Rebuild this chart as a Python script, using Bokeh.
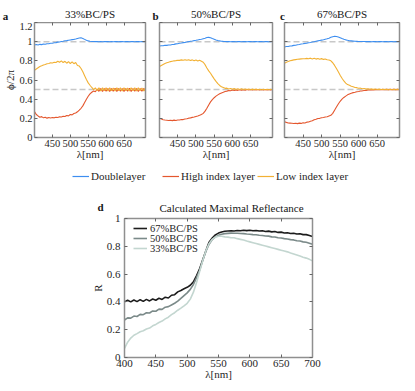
from bokeh.plotting import figure
from bokeh.layouts import column, row
from bokeh.models import (Range1d, LinearAxis, FixedTicker, NumeralTickFormatter,
                          Span, Label, Legend, LegendItem)
from bokeh.embed import file_html
from bokeh.resources import INLINE

# ---------------- data ----------------
wl_top = [400, 405, 410, 415, 420, 425, 430, 435, 440, 445,
          450, 455, 460, 465, 470, 475, 480, 485, 490, 495,
          500, 505, 510, 515, 520, 525, 530, 535, 540, 545,
          550, 555, 560, 565, 570, 575, 580, 585, 590, 595,
          600, 605, 610, 615, 620, 625, 630, 635, 640, 645,
          650, 655, 660, 665, 670, 675, 680, 685, 690, 695,
          700, 705, 710]

a_double = [0.965, 0.970, 0.966, 0.972, 0.969, 0.975, 0.973, 0.979, 0.978, 0.984,
            0.983, 0.989, 0.990, 0.995, 0.997, 1.002, 1.004, 1.009, 1.011, 1.015,
            1.018, 1.021, 1.024, 1.028, 1.033, 1.038, 1.040, 1.034, 1.024, 1.014,
            1.008, 1.004, 1.002, 1.001, 1.000, 1.002, 0.999, 1.001, 0.999, 1.001,
            1.000, 1.001, 0.999, 1.001, 0.999, 1.000, 1.001, 0.999, 1.000, 1.001,
            0.999, 1.000, 1.001, 0.999, 1.000, 1.001, 0.999, 1.000, 1.001, 0.999,
            1.000, 1.001, 1.000]
a_high = [0.270, 0.240, 0.225, 0.212, 0.218, 0.205, 0.212, 0.202, 0.208, 0.203,
          0.208, 0.205, 0.212, 0.209, 0.216, 0.214, 0.222, 0.219, 0.230, 0.226,
          0.240, 0.236, 0.250, 0.255, 0.268, 0.285, 0.305, 0.330, 0.365, 0.400,
          0.430, 0.455, 0.472, 0.485, 0.478, 0.505, 0.482, 0.510, 0.480, 0.512,
          0.482, 0.512, 0.480, 0.510, 0.482, 0.513, 0.480, 0.511, 0.483, 0.512,
          0.480, 0.510, 0.482, 0.513, 0.481, 0.511, 0.483, 0.512, 0.480, 0.510,
          0.482, 0.511, 0.483]
a_low = [0.700, 0.715, 0.728, 0.740, 0.748, 0.757, 0.762, 0.770, 0.772, 0.779,
         0.778, 0.786, 0.782, 0.795, 0.785, 0.800, 0.782, 0.795, 0.775, 0.792,
         0.772, 0.790, 0.770, 0.782, 0.752, 0.745, 0.720, 0.685, 0.645, 0.605,
         0.570, 0.545, 0.522, 0.500, 0.518, 0.488, 0.520, 0.485, 0.518, 0.487,
         0.520, 0.486, 0.519, 0.488, 0.517, 0.485, 0.520, 0.487, 0.518, 0.486,
         0.520, 0.488, 0.517, 0.486, 0.519, 0.487, 0.518, 0.485, 0.520, 0.488,
         0.517, 0.486, 0.518]

b_double = [0.955, 0.958, 0.957, 0.962, 0.961, 0.966, 0.966, 0.971, 0.972, 0.977,
            0.979, 0.983, 0.986, 0.990, 0.993, 0.997, 1.000, 1.004, 1.007, 1.011,
            1.014, 1.018, 1.022, 1.026, 1.031, 1.036, 1.043, 1.045, 1.040, 1.032,
            1.025, 1.018, 1.012, 1.008, 1.005, 1.003, 1.002, 1.000, 1.001, 0.999,
            1.000, 1.001, 0.999, 1.000, 1.001, 0.999, 1.000, 1.001, 0.999, 1.000,
            1.001, 0.999, 1.000, 1.001, 0.999, 1.000, 1.001, 0.999, 1.000, 1.001,
            0.999, 1.000, 1.001]
b_high = [0.200, 0.192, 0.186, 0.182, 0.180, 0.178, 0.180, 0.176, 0.181, 0.178,
          0.183, 0.182, 0.188, 0.187, 0.193, 0.195, 0.202, 0.205, 0.210, 0.214,
          0.220, 0.225, 0.232, 0.240, 0.252, 0.275, 0.305, 0.340, 0.372, 0.395,
          0.415, 0.432, 0.445, 0.456, 0.465, 0.472, 0.480, 0.484, 0.490, 0.488,
          0.495, 0.490, 0.497, 0.492, 0.498, 0.493, 0.499, 0.494, 0.500, 0.495,
          0.500, 0.495, 0.501, 0.496, 0.500, 0.495, 0.501, 0.496, 0.500, 0.495,
          0.501, 0.496, 0.500]
b_low = [0.740, 0.752, 0.762, 0.772, 0.780, 0.786, 0.792, 0.796, 0.800, 0.802,
         0.806, 0.805, 0.810, 0.806, 0.812, 0.805, 0.812, 0.803, 0.810, 0.800,
         0.808, 0.798, 0.805, 0.795, 0.785, 0.760, 0.725, 0.695, 0.670, 0.640,
         0.612, 0.585, 0.562, 0.543, 0.530, 0.522, 0.513, 0.515, 0.506, 0.512,
         0.503, 0.510, 0.502, 0.509, 0.501, 0.508, 0.500, 0.507, 0.500, 0.506,
         0.499, 0.505, 0.499, 0.505, 0.498, 0.504, 0.498, 0.504, 0.498, 0.503,
         0.498, 0.503, 0.498]

c_double = [0.945, 0.949, 0.950, 0.955, 0.956, 0.961, 0.963, 0.968, 0.970, 0.975,
            0.978, 0.982, 0.985, 0.989, 0.992, 0.996, 1.000, 1.004, 1.008, 1.012,
            1.016, 1.020, 1.025, 1.030, 1.036, 1.045, 1.052, 1.056, 1.054, 1.048,
            1.040, 1.032, 1.025, 1.019, 1.014, 1.010, 1.008, 1.006, 1.004, 1.003,
            1.002, 1.002, 1.001, 1.001, 1.000, 1.001, 1.000, 0.999, 1.000, 1.001,
            0.999, 1.000, 1.001, 0.999, 1.000, 1.001, 0.999, 1.000, 1.001, 0.999,
            1.000, 1.001, 1.000]
c_high = [0.165, 0.158, 0.152, 0.150, 0.148, 0.146, 0.149, 0.145, 0.150, 0.147,
          0.153, 0.152, 0.160, 0.162, 0.170, 0.175, 0.185, 0.190, 0.198, 0.200,
          0.206, 0.208, 0.214, 0.216, 0.224, 0.232, 0.252, 0.285, 0.318, 0.350,
          0.378, 0.400, 0.418, 0.432, 0.445, 0.455, 0.462, 0.468, 0.472, 0.478,
          0.480, 0.485, 0.487, 0.491, 0.492, 0.495, 0.495, 0.498, 0.497, 0.500,
          0.498, 0.501, 0.499, 0.502, 0.499, 0.502, 0.500, 0.502, 0.500, 0.502,
          0.500, 0.502, 0.500]
c_low = [0.775, 0.785, 0.792, 0.800, 0.805, 0.810, 0.813, 0.816, 0.818, 0.820,
         0.822, 0.822, 0.826, 0.822, 0.828, 0.820, 0.826, 0.818, 0.825, 0.816,
         0.823, 0.815, 0.820, 0.812, 0.808, 0.800, 0.780, 0.752, 0.720, 0.685,
         0.650, 0.618, 0.590, 0.568, 0.552, 0.545, 0.535, 0.530, 0.522, 0.520,
         0.514, 0.515, 0.508, 0.511, 0.505, 0.509, 0.503, 0.507, 0.502, 0.506,
         0.501, 0.505, 0.500, 0.504, 0.500, 0.504, 0.499, 0.503, 0.499, 0.503,
         0.499, 0.503, 0.499]

wl_d = [400, 405, 410, 415, 420, 425, 430, 435, 440, 445,
        450, 455, 460, 465, 470, 475, 480, 485, 490, 495,
        500, 505, 510, 515, 520, 525, 530, 535, 540, 545,
        550, 555, 560, 565, 570, 575, 580, 585, 590, 595,
        600, 605, 610, 615, 620, 625, 630, 635, 640, 645,
        650, 655, 660, 665, 670, 675, 680, 685, 690, 695,
        700]
refl_67 = [0.400, 0.412, 0.400, 0.414, 0.402, 0.416, 0.404, 0.418, 0.407, 0.421,
           0.412, 0.426, 0.418, 0.434, 0.428, 0.448, 0.452, 0.472, 0.482, 0.495,
           0.505, 0.520, 0.545, 0.590, 0.640, 0.705, 0.770, 0.830, 0.860, 0.882,
           0.895, 0.903, 0.908, 0.910, 0.912, 0.910, 0.914, 0.912, 0.916, 0.913,
           0.916, 0.912, 0.914, 0.910, 0.912, 0.907, 0.909, 0.904, 0.906, 0.900,
           0.902, 0.896, 0.898, 0.892, 0.894, 0.888, 0.890, 0.884, 0.884, 0.877,
           0.870]
refl_50 = [0.270, 0.285, 0.283, 0.298, 0.295, 0.310, 0.308, 0.322, 0.320, 0.335,
           0.333, 0.348, 0.346, 0.362, 0.366, 0.378, 0.390, 0.405, 0.425, 0.445,
           0.465, 0.490, 0.525, 0.575, 0.630, 0.700, 0.765, 0.815, 0.848, 0.868,
           0.880, 0.887, 0.891, 0.893, 0.895, 0.894, 0.894, 0.892, 0.891, 0.888,
           0.887, 0.884, 0.883, 0.879, 0.878, 0.874, 0.873, 0.868, 0.867, 0.862,
           0.860, 0.855, 0.853, 0.848, 0.846, 0.840, 0.838, 0.832, 0.829, 0.822,
           0.815]
refl_33 = [0.065, 0.110, 0.140, 0.160, 0.172, 0.185, 0.192, 0.205, 0.212, 0.228,
           0.238, 0.252, 0.262, 0.278, 0.290, 0.308, 0.322, 0.340, 0.355, 0.372,
           0.390, 0.420, 0.470, 0.540, 0.620, 0.700, 0.770, 0.820, 0.850, 0.866,
           0.872, 0.872, 0.868, 0.866, 0.862, 0.862, 0.855, 0.850, 0.845, 0.838,
           0.832, 0.826, 0.820, 0.814, 0.808, 0.802, 0.796, 0.790, 0.784, 0.778,
           0.772, 0.766, 0.760, 0.752, 0.745, 0.738, 0.730, 0.722, 0.715, 0.706,
           0.695]

panel_titles = ["33%BC/PS", "50%BC/PS", "67%BC/PS"]
panel_tags = ["a", "b", "c"]
series_names = ["Doublelayer", "High index layer", "Low index layer"]
d_names = ["67%BC/PS", "50%BC/PS", "33%BC/PS"]
top_xticks = [450, 500, 550, 600, 650]
top_yticks = [0, 0.2, 0.4, 0.6, 0.8, 1.0, 1.2]
ref_levels = [1.0, 0.5]
d_xticks = [400, 450, 500, 550, 600, 650, 700]
d_yticks = [0, 0.2, 0.4, 0.6, 0.8, 1.0]

# ---------------- styling ----------------
FONT = "Liberation Serif"
AXC = "#8f8f8f"
TXT = "#262626"
COLS = ["#3d8ef0", "#e4572e", "#f2b134"]
D_COLS = ["#1c1c1c", "#7b8a89", "#c3d6d0"]
W = 415


def style_axis(ax, show_labels, size="10.5px"):
    ax.axis_line_color = AXC
    ax.axis_line_width = 1.5
    ax.major_tick_line_color = "#666666"
    ax.major_tick_in = 3
    ax.major_tick_out = 0
    ax.minor_tick_line_color = None
    ax.major_label_text_font = FONT
    if show_labels:
        ax.major_label_text_color = TXT
        ax.major_label_text_font_size = size
        ax.major_label_standoff = 2
    else:
        ax.major_label_text_color = None
        ax.major_label_text_font_size = "0px"
        ax.major_label_standoff = 0


def set_label(ax, text, standoff):
    ax.axis_label = text
    ax.axis_label_text_font = FONT
    ax.axis_label_text_font_style = "normal"
    ax.axis_label_text_font_size = "11px"
    ax.axis_label_text_color = TXT
    ax.axis_label_standoff = standoff


def boxed(p, xticks, yticks, show_y, lab_size="10.5px"):
    p.grid.visible = False
    p.outline_line_color = None
    p.xaxis.ticker = FixedTicker(ticks=xticks)
    p.yaxis.ticker = FixedTicker(ticks=yticks)
    p.yaxis.formatter = NumeralTickFormatter(format="0.[0]")
    style_axis(p.xaxis[0], True, lab_size)
    style_axis(p.yaxis[0], show_y, lab_size)
    set_label(p.xaxis[0], "λ[nm]", -2)
    top = LinearAxis(ticker=FixedTicker(ticks=xticks))
    right = LinearAxis(ticker=FixedTicker(ticks=yticks))
    style_axis(top, False)
    style_axis(right, False)
    p.add_layout(top, "above")
    p.add_layout(right, "right")


# text strips: plots without axes whose frame covers the whole canvas;
# the vertical range is offset so that the (hidden) legend source lines stay out of view
STRIP_Y0 = 50


def strip(width, height):
    s = figure(width=width, height=height, x_range=Range1d(0, width),
               y_range=Range1d(STRIP_Y0, STRIP_Y0 + height),
               min_border_left=0, min_border_right=0, min_border_top=0, min_border_bottom=0,
               x_axis_location=None, y_axis_location=None, title=None, frame_align=False,
               output_backend="svg", toolbar_location=None)
    s.grid.visible = False
    s.outline_line_color = None
    return s


def text_label(s, x, y, text, bold=False, align="center"):
    s.add_layout(Label(x=x, y=STRIP_Y0 + y, text=text, text_font=FONT, text_font_size="11px",
                       text_font_style="bold" if bold else "normal",
                       text_color="#161616", text_align=align, text_baseline="middle"))


# ---------------- top strip: titles + tags ----------------
top_strip = strip(W, 22)
title_x = [89.5, 215.5, 341.5]
tag_x = [5, 155, 282]
for i in range(3):
    text_label(top_strip, title_x[i], 9, panel_titles[i])
    text_label(top_strip, tag_x[i], 7, panel_tags[i], bold=True)

# ---------------- top panels ----------------
fig_w = [152, 126, 137]
borders_l = [34, 7, 6]
borders_r = [7, 6, 16]
panel_data = [(a_double, a_high, a_low), (b_double, b_high, b_low), (c_double, c_high, c_low)]
top_figs = []
for i in range(3):
    p = figure(width=fig_w[i], height=143,
               x_range=Range1d(400, 710), y_range=Range1d(0, 1.2),
               min_border_left=borders_l[i], min_border_right=borders_r[i],
               min_border_top=0, min_border_bottom=28, title=None, frame_align=False,
               output_backend="svg", toolbar_location=None)
    boxed(p, top_xticks, top_yticks, i == 0)
    if i == 0:
        set_label(p.yaxis[0], "ϕ/2π", 0)
    for lvl in ref_levels:
        p.add_layout(Span(location=lvl, dimension="width", line_color="#c8c8c8",
                          line_width=1.5, line_dash="6 3", level="underlay"))
    for ys, col in zip(panel_data[i], COLS):
        p.line(wl_top, ys, line_color=col, line_width=1.1)
    top_figs.append(p)

# ---------------- middle strip: shared legend + panel d heading ----------------
mid = strip(W, 48)
leg_x = [72, 162, 257]
for name, ys, col, lx in zip(series_names, panel_data[0], COLS, leg_x):
    r = mid.line(wl_top, ys, line_color=col, line_width=1.2)  # below the strip's visible range
    mid.add_layout(Legend(items=[LegendItem(label=name, renderers=[r])], location=(lx, 31),
                          padding=0, margin=0, spacing=0,
                          glyph_width=17, glyph_height=12, label_height=12, label_standoff=2,
                          label_text_font=FONT, label_text_font_size="11px",
                          label_text_color=TXT, background_fill_alpha=0, border_line_alpha=0))
text_label(mid, 231, 6, "Calculated Maximal Reflectance")
text_label(mid, 100, 7, "d", bold=True)

# ---------------- panel d ----------------
pd = figure(width=W, height=178, x_range=Range1d(400, 700), y_range=Range1d(0, 1),
            min_border_left=124, min_border_right=103, min_border_top=5, min_border_bottom=34,
            title=None, frame_align=False, output_backend="svg", toolbar_location=None)
boxed(pd, d_xticks, d_yticks, True, lab_size="11px")
pd.yaxis[0].major_label_standoff = 4
set_label(pd.yaxis[0], "R", 0)

d_series = [refl_67, refl_50, refl_33]
d_rend = []
for ys, col in zip(d_series, D_COLS):
    d_rend.append(pd.line(wl_d, ys, line_color=col, line_width=1.6))
for k, (name, r) in enumerate(zip(d_names, d_rend)):
    pd.add_layout(Legend(items=[LegendItem(label=name, renderers=[r])], location=(9, 123 - 10 * k),
                         padding=0, margin=0, spacing=0, glyph_width=14, glyph_height=12,
                         label_height=12, label_standoff=3, label_text_font=FONT,
                         label_text_font_size="10.5px", label_text_color=TXT,
                         background_fill_alpha=0, border_line_alpha=0))

layout = column(top_strip, row(*top_figs), mid, pd)
open("out.html", "w").write(file_html(layout, INLINE))
